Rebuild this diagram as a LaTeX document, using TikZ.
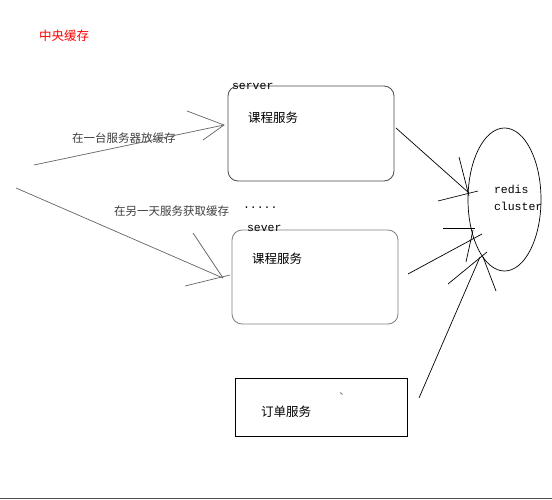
\documentclass[tikz,border=0pt]{standalone}
\usepackage{fontspec}
\setmonofont{Liberation Mono}
\newfontfamily\cjk{Noto Sans CJK SC}
\usetikzlibrary{shapes.geometric}
\begin{document}
\begin{tikzpicture}[x=1pt,y=-1pt,
  every node/.style={inner sep=0pt,outer sep=0pt},
  lbl/.style={anchor=west,font=\cjk\fontsize{12.5}{14}\selectfont},
  glbl/.style={anchor=west,font=\cjk\fontsize{11.5}{13}\selectfont,text=black!75},
  mono/.style={anchor=west,font=\ttfamily\fontsize{11.5}{13}\selectfont},
  svc/.style={draw,rounded corners=10pt,line width=0.8pt},
  gline/.style={draw=black!60,line width=0.7pt},
  bline/.style={draw=black,line width=0.7pt}]
\useasboundingbox (0,0) rectangle (552,500);
\fill[white] (0,0) rectangle (552,500);
% bottom rule
\coordinate (bl) at (0,498);
\coordinate (br) at (552,498);
\draw[draw=black!70,line width=1pt] (bl) -- (br);
% title
\node[lbl,text=red] (title) at (39,36) {中央缓存};
% boxes
\node[svc,draw=black!70,minimum width=166pt,minimum height=95pt] (s1) at (311,133.5) {};
\node[svc,draw=black!50,minimum width=166pt,minimum height=94pt] (s2) at (315,277) {};
\node[draw=black,line width=0.8pt,minimum width=172pt,minimum height=58pt] (ord) at (321,407) {};
\node[draw=black,line width=0.7pt,ellipse,minimum width=73pt,minimum height=143pt] (redis) at (504.5,199.5) {};
% texts
\node[mono] (t1) at (232,86.5) {server};
\node[mono] (t2) at (247,228) {sever};
\node[mono] (dots) at (243,207.5) {.....};
\node[lbl] (k1) at (248,117.5) {课程服务};
\node[lbl] (k2) at (252,259) {课程服务};
\node[lbl] (k3) at (261,411.5) {订单服务};
\node[mono] (r1) at (494,189) {redis};
\node[mono] (r2) at (494,206) {cluster};
\node[glbl] (g1) at (72,138) {在一台服务器放缓存};
\node[glbl] (g2) at (114,211) {在另一天服务获取缓存};
% stray tick
\coordinate (tk1) at (340,392.5);
\coordinate (tk2) at (342.5,394.5);
\draw[black!70,line width=0.6pt] (tk1) -- (tk2);
% left arrow 1
\coordinate (a1s) at (34,165);
\coordinate (a1t) at (224,125);
\coordinate (a1h1) at (187,111);
\coordinate (a1h2) at (203,140);
\draw[gline] (a1s) -- (a1t);
\draw[gline] (a1h1) -- (a1t) -- (a1h2);
% left arrow 2
\coordinate (a2s) at (16,188);
\coordinate (a2t) at (223,278);
\coordinate (a2h1) at (193,233);
\coordinate (a2h2) at (185,286);
\coordinate (a2h3) at (230,275);
\draw[gline] (a2s) -- (a2t);
\draw[gline] (a2h1) -- (a2t);
\draw[gline] (a2h2) -- (a2h3);
% right line 1
\coordinate (b1s) at (396,128);
\coordinate (b1t) at (469,193);
\draw[bline] (b1s) -- (b1t);
\coordinate (b1h1) at (459,157); \coordinate (b1h2) at (469,196);
\coordinate (b1h3) at (438,201); \coordinate (b1h4) at (478,191);
\draw[bline] (b1h1) -- (b1h2);
\draw[bline] (b1h3) -- (b1h4);
% right line 2
\coordinate (b2s) at (408,274);
\coordinate (b2t) at (482,234);
\draw[bline] (b2s) -- (b2t);
\coordinate (b2h1) at (443,228); \coordinate (b2h2) at (475,228);
\coordinate (b2h3) at (466,262); \coordinate (b2h4) at (473,230);
\draw[bline] (b2h1) -- (b2h2);
\draw[bline] (b2h3) -- (b2h4);
% right line 3
\coordinate (b3s) at (419,398);
\coordinate (b3t) at (480,257);
\draw[bline] (b3s) -- (b3t);
\coordinate (b3h1) at (448,284); \coordinate (b3h2) at (487,252);
\coordinate (b3h3) at (483,257); \coordinate (b3h4) at (496,291);
\draw[bline] (b3h1) -- (b3h2);
\draw[bline] (b3h3) -- (b3h4);
\end{tikzpicture}
\end{document}
